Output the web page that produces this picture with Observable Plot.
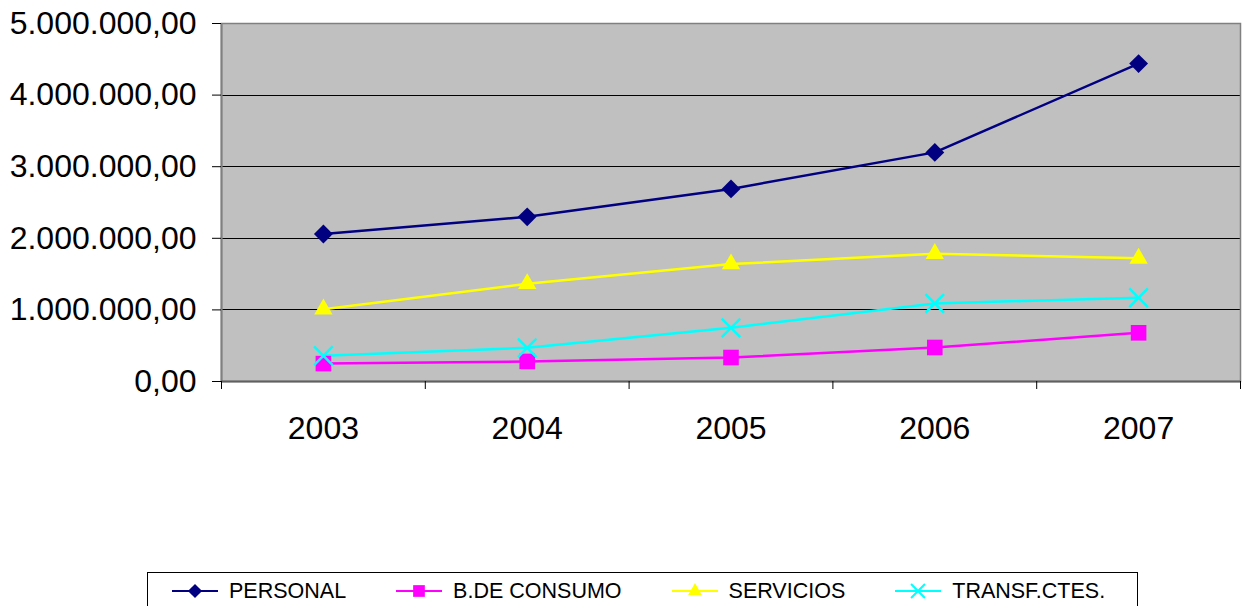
<!DOCTYPE html>
<html>
<head>
<meta charset="utf-8">
<script src="https://cdn.jsdelivr.net/npm/d3@7"></script>
<script src="https://cdn.jsdelivr.net/npm/@observablehq/plot@0.6"></script>
<style>
  html, body { margin: 0; padding: 0; background: #fff; overflow: hidden; }
  body { width: 1242px; height: 606px; font-family: "Liberation Sans", Arial, sans-serif; }
  #chart svg { display: block; }
  #legend {
    position: absolute; left: 147px; top: 572px; width: 991px; height: 38px;
    border: 1px solid #000; background: #fff; box-sizing: border-box;
    display: flex; align-items: center; gap: 50px; padding-left: 24px;
    font-size: 21.5px; color: #000;
  }
  .item { display: flex; align-items: center; white-space: nowrap; }
  .item svg { margin-right: 11px; display: block; }
</style>
</head>
<body>
<div id="chart"></div>
<div id="legend"></div>
<script>
const years = [2003, 2004, 2005, 2006, 2007];
const personal = [2060000, 2300000, 2690000, 3200000, 4440000];
const consumo = [250000, 280000, 335000, 475000, 680000];
const servicios = [1010000, 1365000, 1640000, 1785000, 1720000];
const transf = [360000, 470000, 750000, 1090000, 1170000];
const seriesNames = ["PERSONAL", "B.DE CONSUMO", "SERVICIOS", "TRANSF.CTES."];
const seriesColors = ["#000080", "#FF00FF", "#FFFF00", "#00FFFF"];
const seriesSymbols = ["diamond2", "square", "triangle", "times"];
const yTicks = [0, 1000000, 2000000, 3000000, 4000000, 5000000];

const seriesValues = [personal, consumo, servicios, transf];
const data = [];
seriesNames.forEach((s, i) => years.forEach((yr, j) => data.push({series: s, year: yr, value: seriesValues[i][j]})));

const boundaries = years.map(y => y - 0.5).concat([years[years.length - 1] + 0.5]);
const locale = d3.formatLocale({decimal: ",", thousands: ".", grouping: [3], currency: ["", ""]});
const fmt = locale.format(",.2f");

const symbolR = {"diamond2": 8.5, "square": 8.8, "triangle": 6.8, "times": 8.5};

const marks = [
  Plot.frame({fill: "#C0C0C0"}),
  Plot.gridY(yTicks.slice(1, -1), {stroke: "#000", strokeOpacity: 1, strokeWidth: 1, shapeRendering: "crispEdges"}),
  Plot.frame({stroke: "#808080", strokeWidth: 1.5}),
  Plot.ruleX([boundaries[0]], {stroke: "#808080", strokeWidth: 2}),
  Plot.ruleY([0], {stroke: "#606060", strokeWidth: 2}),
  Plot.axisY(yTicks, {tickSize: 9, tickPadding: 16, fontSize: 32, tickFormat: fmt, stroke: "#000", color: "#000", label: null}),
  Plot.axisX(boundaries, {tickSize: 8, tickFormat: () => "", stroke: "#000", label: null}),
  Plot.axisX(years, {tickSize: 0, tickPadding: 35, fontSize: 32, tickFormat: d => String(d), color: "#000", label: null}),
  Plot.line(data, {x: "year", y: "value", z: "series", stroke: "series", strokeWidth: 2.5})
];
seriesNames.forEach((s, i) => {
  const sym = seriesSymbols[i];
  const sub = data.filter(d => d.series === s);
  if (sym === "times") {
    marks.push(Plot.dot(sub, {x: "year", y: "value", symbol: () => sym, r: symbolR[sym], stroke: seriesColors[i], strokeWidth: 2.5, fill: "none"}));
  } else {
    marks.push(Plot.dot(sub, {x: "year", y: "value", symbol: () => sym, r: symbolR[sym], fill: seriesColors[i], stroke: "none"}));
  }
});

const chart = Plot.plot({
  width: 1242,
  height: 572,
  marginLeft: 221,
  marginRight: 2,
  marginTop: 23,
  marginBottom: 191,
  style: {fontFamily: "'Liberation Sans', Arial, sans-serif", background: "#fff", color: "#000"},
  x: {type: "linear", domain: [boundaries[0], boundaries[boundaries.length - 1]], axis: null, label: null},
  y: {domain: [0, 5000000], axis: null, label: null},
  color: {domain: seriesNames, range: seriesColors},
  symbol: {domain: seriesSymbols, range: seriesSymbols},
  marks
});
document.getElementById("chart").appendChild(chart);

// legend
const legend = d3.select("#legend");
const symMap = {"diamond2": d3.symbolDiamond2, "square": d3.symbolSquare, "triangle": d3.symbolTriangle, "times": d3.symbolTimes};
seriesNames.forEach((s, i) => {
  const item = legend.append("div").attr("class", "item");
  const svg = item.append("svg").attr("width", 46).attr("height", 20);
  svg.append("line").attr("x1", 0).attr("x2", 46).attr("y1", 10).attr("y2", 10)
    .attr("stroke", seriesColors[i]).attr("stroke-width", 2);
  const sym = seriesSymbols[i];
  const size = Math.PI * Math.pow(symbolR[sym] * 0.75, 2);
  const p = svg.append("path").attr("transform", "translate(23,10)")
    .attr("d", d3.symbol(symMap[sym], size)());
  if (sym === "times") p.attr("stroke", seriesColors[i]).attr("stroke-width", 2).attr("fill", "none");
  else p.attr("fill", seriesColors[i]);
  item.append("span").text(s);
});
</script>
</body>
</html>
